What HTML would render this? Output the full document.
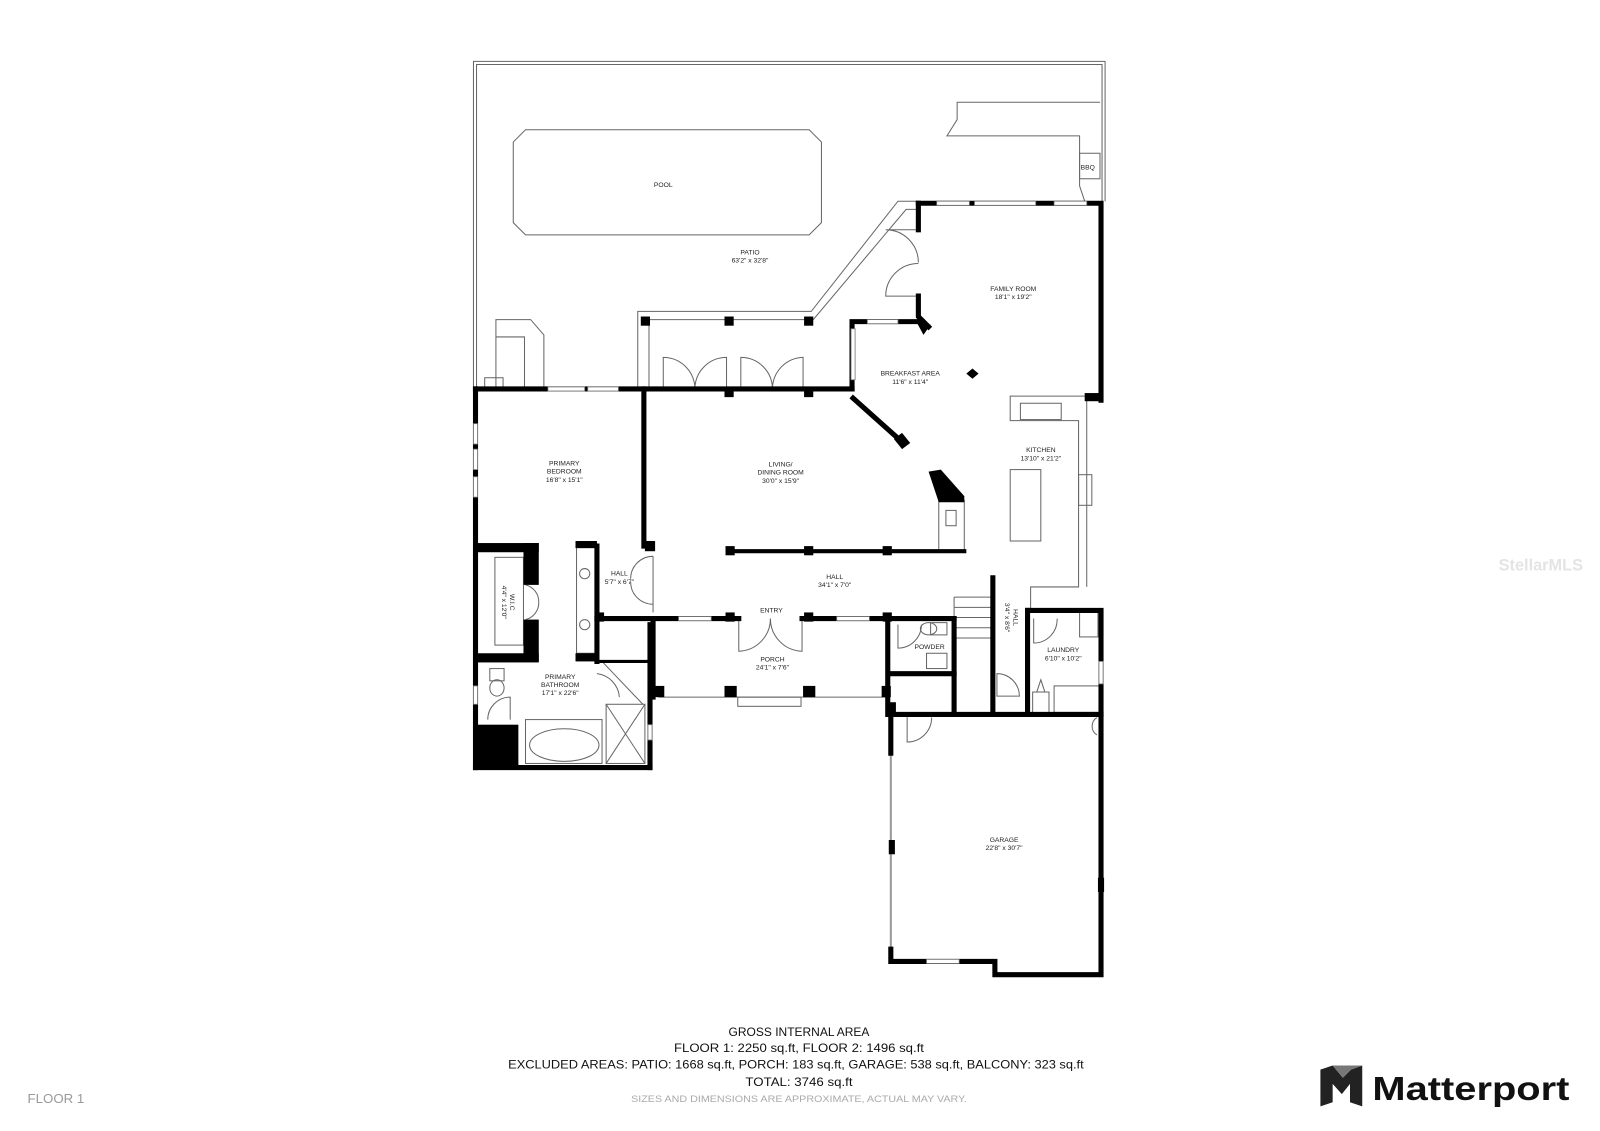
<!DOCTYPE html>
<html><head><meta charset="utf-8"><style>
html,body{margin:0;padding:0;background:#fff;}
svg{display:block;}
text{font-family:"Liberation Sans",sans-serif;fill:#222;}
.l{font-size:6.6px;text-anchor:middle;}
.b{font-size:11.5px;text-anchor:middle;fill:#111;}
</style></head><body>
<svg width="1600" height="1131" viewBox="0 0 1568 1108" xmlns="http://www.w3.org/2000/svg">
<rect width="1568" height="1108" fill="#fff"/>
<g fill="none" stroke="#666" stroke-width="1">
<polyline points="464,383 464,60 1083,60 1083,197"/>
<polyline points="467,383 467,63 1080,63 1080,197"/>
<polygon points="515,127 793,127 805,139 805,218 793,230 515,230 503,218 503,139"/>
<polyline points="1078,100 938,100 938,117 928,133 1058,133 1058,148 1058,182 1063,197"/>
<rect x="1058" y="150" width="20" height="25"/>
<polyline points="625,383 625,305 795,305 880,197 900,197"/>
<polyline points="636,383 636,313 797,313 888,205 900,205"/>
<polyline points="486,381 486,313 520,313 533,328 533,381"/>
<polyline points="486,330 514,330 514,381"/>
<rect x="475" y="370" width="18" height="11"/>
<path d="M650,381 V350 A31,31 0 0 1 681,381 M712,381 V350 A31,31 0 0 0 681,381 M726,381 V350 A31,31 0 0 1 757,381 M787,381 V350 A31,31 0 0 0 757,381"/>
<path d="M900,225 H868 A32,32 0 0 1 900,257 M900,290 H868 A32,32 0 0 1 900,258"/>
<polyline points="1070,388 990,388 990,412 1057,412 1057,575 1010,575 1010,598"/>
<rect x="1000" y="395" width="40" height="16"/>
<rect x="990" y="460" width="30" height="70"/>
<line x1="1065" y1="392" x2="1065" y2="575"/>
<rect x="1057" y="465" width="13" height="30"/>
<rect x="920" y="490" width="25" height="50"/>
<rect x="927" y="500" width="10" height="15"/>
<path d="M935,585 H973 M935,595 H973 M935,605 H973 M935,615 H973 M935,625 H973 M935,585 V700"/>
<line x1="645" y1="683" x2="870" y2="683"/>
<rect x="723" y="683" width="62" height="9"/>
<path d="M724,606 V638 A32,32 0 0 0 755,606 M786,606 V638 A32,32 0 0 1 755,606"/>
<rect x="485" y="546" width="28" height="86"/>
<path d="M515,573 A17,17 0 0 1 528,590 M515,607 A17,17 0 0 0 528,590"/>
<rect x="565" y="536" width="20" height="104"/>
<circle cx="573" cy="562" r="5"/><circle cx="573" cy="612" r="5"/>
<path d="M640,545 A22,22 0 0 0 618,567 M640,592 A22,22 0 0 1 618,570"/>
<line x1="640" y1="545" x2="640" y2="600"/>
<rect x="515" y="705" width="75" height="43"/>
<ellipse cx="553" cy="730" rx="34" ry="16"/>
<rect x="594" y="690" width="38" height="58"/>
<path d="M594,690 L632,748 M632,690 L594,748"/>
<path d="M590,648 L630,690"/>
<path d="M585,660 A25,25 0 0 1 607,683"/>
<rect x="480" y="655" width="14" height="12"/><ellipse cx="487" cy="674" rx="7" ry="8"/>
<path d="M478,705 A22,22 0 0 1 500,683 V705"/>
<path d="M880,612 V635 A23,23 0 0 0 903,612"/>
<rect x="912" y="610" width="16" height="12"/><ellipse cx="910" cy="616" rx="8" ry="6"/>
<rect x="908" y="640" width="20" height="15"/>
<path d="M977,660 A22,22 0 0 1 999,682 H977 Z"/>
<path d="M1013,606 V630 A23,23 0 0 0 1036,606"/>
<rect x="1058" y="600" width="18" height="24"/>
<rect x="1033" y="672" width="44" height="26"/>
<path d="M1016,678 L1020,666 L1024,678 Z"/><rect x="1012" y="678" width="16" height="22"/>
<path d="M1075,703 A10,10 0 0 0 1075,720"/>
<path d="M889,700 V727 A24,24 0 0 0 913,703"/>
</g>
<line x1="873" y1="738" x2="873" y2="930" stroke="#999" stroke-width="2"/>
<g stroke="#000" stroke-width="5" fill="none" stroke-linecap="square">
<line x1="466" y1="381" x2="835" y2="381"/>
<line x1="466" y1="381" x2="466" y2="752"/>
<line x1="631" y1="381" x2="631" y2="535"/>
<polyline points="835,381 835,315 900,315"/>
<polyline points="900,199 1079,199 1079,392"/>
<polyline points="900,199 900,225"/>
<polyline points="900,290 900,310 910,320"/>
<polyline points="836,390 883,432"/>
<line x1="715" y1="540" x2="945" y2="540" stroke-width="4"/>
<polyline points="585,535 585,648"/>
<line x1="585" y1="606" x2="724" y2="606"/>
<line x1="786" y1="606" x2="935" y2="606"/>
<polyline points="640,606 640,683"/>
<polyline points="870,606 870,700 1007,700"/>
<polyline points="873,700 873,738"/>
<line x1="935" y1="606" x2="935" y2="700"/>
<line x1="873" y1="660" x2="935" y2="660"/>
<polyline points="973,566 973,700"/>
<polyline points="1007,598 1079,598 1079,955 975,955 975,942 873,942 873,930"/>
<line x1="1007" y1="598" x2="1007" y2="700"/>
<line x1="1007" y1="700" x2="1079" y2="700"/>
<line x1="466" y1="752" x2="637" y2="752"/>
<line x1="637" y1="612" x2="637" y2="752"/>
<line x1="585" y1="648" x2="637" y2="648" stroke-width="3"/>
</g>
<g fill="#000">
<rect x="466" y="532" width="62" height="9"/><rect x="466" y="640" width="62" height="9"/>
<rect x="513" y="532" width="15" height="41"/><rect x="513" y="607" width="15" height="41"/>
<rect x="466" y="710" width="42" height="42"/>
<rect x="564" y="530" width="21" height="7"/><rect x="564" y="640" width="21" height="8"/>
<polygon points="910,462 922,460 945,486 945,492 920,492"/>
<polygon points="876,430 884,424 892,434 884,440"/>
<polygon points="898,315 912,318 905,328"/>
<polygon points="953,361 959,366 953,371 947,366"/>
<rect x="1063" y="385" width="15" height="8"/>
<rect x="710" y="310" width="9" height="9"/><rect x="788" y="310" width="9" height="9"/><rect x="628" y="310" width="9" height="9"/>
<rect x="710" y="380" width="9" height="9"/><rect x="788" y="380" width="9" height="9"/>
<rect x="711" y="535" width="9" height="9"/><rect x="788" y="535" width="9" height="9"/><rect x="865" y="535" width="9" height="9"/>
<rect x="632" y="530" width="10" height="10"/><rect x="583" y="600" width="9" height="9"/>
<rect x="711" y="600" width="9" height="9"/><rect x="788" y="600" width="9" height="9"/><rect x="865" y="600" width="9" height="9"/>
<rect x="641" y="672" width="10" height="11"/><rect x="710" y="672" width="12" height="11"/><rect x="787" y="672" width="12" height="11"/><rect x="864" y="672" width="9" height="11"/>
<rect x="868" y="688" width="10" height="10"/>
<rect x="871" y="823" width="6" height="14"/><rect x="1076" y="860" width="6" height="14"/>
</g>
<g fill="#fff" stroke="#777" stroke-width="0.8">
<rect x="537" y="379" width="36" height="4"/><rect x="576" y="379" width="30" height="4"/>
<rect x="850" y="313" width="30" height="4"/>
<rect x="834" y="322" width="4" height="50"/>
<rect x="918" y="197" width="32" height="4"/><rect x="955" y="197" width="60" height="4"/><rect x="1033" y="197" width="32" height="4"/>
<rect x="665" y="604" width="32" height="4"/><rect x="820" y="604" width="32" height="4"/>
<rect x="908" y="940" width="32" height="4"/>
<rect x="464" y="415" width="4" height="20"/><rect x="464" y="440" width="4" height="20"/><rect x="464" y="467" width="4" height="20"/>
<rect x="464" y="672" width="4" height="18"/><rect x="635" y="710" width="4" height="15"/><rect x="1077" y="648" width="4" height="22"/>
</g>
<g>
<text class="l" x="650" y="183">POOL</text>
<text class="l" x="735" y="249">PATIO</text><text class="l" x="735" y="257">63'2" x 32'8"</text>
<text class="l" x="993" y="285">FAMILY ROOM</text><text class="l" x="993" y="293">18'1" x 19'2"</text>
<text class="l" x="892" y="368">BREAKFAST AREA</text><text class="l" x="892" y="376">11'6" x 11'4"</text>
<text class="l" x="1020" y="443">KITCHEN</text><text class="l" x="1020" y="451">13'10" x 21'2"</text>
<text class="l" x="553" y="456">PRIMARY</text><text class="l" x="553" y="464">BEDROOM</text><text class="l" x="553" y="472">16'8" x 15'1"</text>
<text class="l" x="765" y="457">LIVING/</text><text class="l" x="765" y="465">DINING ROOM</text><text class="l" x="765" y="473">30'0" x 15'9"</text>
<text class="l" x="818" y="567">HALL</text><text class="l" x="818" y="575">34'1" x 7'0"</text>
<text class="l" x="607" y="564">HALL</text><text class="l" x="607" y="572">5'7" x 6'7"</text>
<text class="l" x="756" y="600">ENTRY</text>
<text class="l" x="757" y="648">PORCH</text><text class="l" x="757" y="656">24'1" x 7'6"</text>
<text class="l" x="911" y="636">POWDER</text>
<text class="l" x="1042" y="639">LAUNDRY</text><text class="l" x="1042" y="647">6'10" x 10'2"</text>
<text class="l" transform="translate(993,605) rotate(90)">HALL</text>
<text class="l" transform="translate(985,605) rotate(90)">3'4" x 8'6"</text>
<text class="l" transform="translate(500,590) rotate(90)">W.I.C</text>
<text class="l" transform="translate(492,590) rotate(90)">4'4" x 12'0"</text>
<text class="l" x="549" y="665">PRIMARY</text><text class="l" x="549" y="673">BATHROOM</text><text class="l" x="549" y="681">17'1" x 22'6"</text>
<text class="l" x="984" y="825">GARAGE</text><text class="l" x="984" y="833">22'8" x 30'7"</text>
<text class="l" x="1066" y="166">BBQ</text>
</g>
<text x="1510" y="559" style="font-size:16px;fill:#e4e4e4;text-anchor:middle;font-weight:bold">StellarMLS</text>
<text class="b" x="783" y="1015" textLength="138" lengthAdjust="spacingAndGlyphs">GROSS INTERNAL AREA</text>
<text class="b" x="783" y="1031" textLength="245" lengthAdjust="spacingAndGlyphs">FLOOR 1: 2250 sq.ft, FLOOR 2: 1496 sq.ft</text>
<text class="b" x="780" y="1047" textLength="564" lengthAdjust="spacingAndGlyphs">EXCLUDED AREAS: PATIO: 1668 sq.ft, PORCH: 183 sq.ft, GARAGE: 538 sq.ft, BALCONY: 323 sq.ft</text>
<text class="b" x="783" y="1064" textLength="105" lengthAdjust="spacingAndGlyphs">TOTAL: 3746 sq.ft</text>
<text x="783" y="1080" textLength="329" lengthAdjust="spacingAndGlyphs" style="font-size:9px;fill:#aaa;text-anchor:middle">SIZES AND DIMENSIONS ARE APPROXIMATE, ACTUAL MAY VARY.</text>
<text x="27" y="1081" style="font-size:13px;fill:#999">FLOOR 1</text>
<g>
<polygon points="1294,1048 1306,1044 1316,1056 1324,1048 1335,1044 1335,1084 1323,1080 1323,1062 1315,1072 1306,1062 1306,1080 1294,1084" fill="#222"/>
<polygon points="1306,1044 1316,1056 1324,1048 1335,1044" fill="#777"/>
</g>
<text x="1345" y="1078" textLength="193" lengthAdjust="spacingAndGlyphs" style="font-size:33px;font-weight:bold;fill:#111">Matterport</text>
</svg>
</body></html>
